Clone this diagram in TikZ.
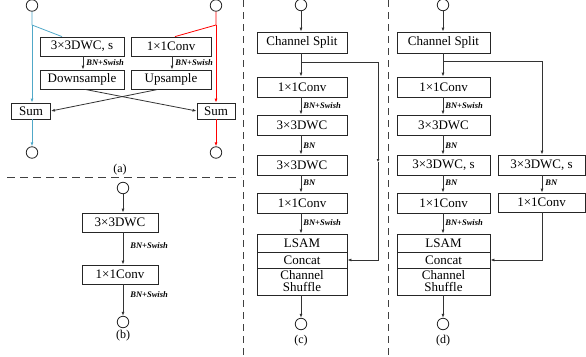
\documentclass[tikz,border=0pt]{standalone}
\usepackage{fontspec}
\setmainfont{Liberation Serif}
\usetikzlibrary{arrows.meta,calc}
\begin{document}
\begin{tikzpicture}[x=1pt,y=-1pt,
  line width=0.8pt,
  box/.style={draw=black!85,inner sep=0pt,font=\fontsize{13}{13}\selectfont,align=center},
  io/.style={draw=black!85,circle,minimum size=11.5pt,inner sep=0pt},
  lbl/.style={anchor=west,inner sep=0pt,font=\fontsize{8.5}{9}\selectfont\bfseries\itshape},
  captxt/.style={inner sep=0pt,font=\fontsize{12}{13}\selectfont},
  arr/.style={draw=black!80,-{Latex[length=4pt,width=3pt]}},
  ln/.style={draw=black!80},
  sep/.style={draw=black!75,line width=0.9pt,dash pattern=on 7pt off 5pt},
]
\useasboundingbox (0,0) rectangle (586,356);
\definecolor{myblue}{RGB}{80,168,200}
% ---------- separators
\coordinate (h1) at (7,177);
\coordinate (h2) at (241,177);
\draw[sep,dash pattern=on 8pt off 5pt] (h1) -- (h2);
\coordinate (v1a) at (243,0);
\coordinate (v1b) at (243,356);
\draw[sep] (v1a) -- (v1b);
\coordinate (v2a) at (388,0);
\coordinate (v2b) at (388,356);
\draw[sep] (v2a) -- (v2b);
% ---------- (a)
\node[io] (aiL) at (32,5.5) {};
\node[io] (aiR) at (216,5.5) {};
\node[box,minimum width=84pt,minimum height=19pt] (a1) at (82,46.5) {3×3DWC, s};
\node[box,minimum width=80pt,minimum height=19pt] (a2) at (171,46.5) {1×1Conv};
\node[box,minimum width=84pt,minimum height=19pt] (ad) at (82,79.5) {Downsample};
\node[box,minimum width=80pt,minimum height=19pt] (au) at (171,79.5) {Upsample};
\node[box,minimum width=39pt,minimum height=16pt] (sL) at (31,111) {Sum};
\node[box,minimum width=38pt,minimum height=16pt] (sR) at (216,111) {Sum};
\node[io] (aoL) at (32,152.5) {};
\node[io] (aoR) at (216,152.5) {};
\node[captxt] (capa) at (120,170) {(a)};
\coordinate (jL) at (32,25);
\coordinate (jR) at (216,25);
\draw[myblue] (aiL) -- (jL) -- ([xshift=-20pt]a1.north);
\draw[myblue,-{Latex[length=4pt,width=3pt]}] (jL) -- (jL |- sL.north);
\draw[myblue,-{Latex[length=4pt,width=3pt]}] (sL.south -| jL) -- (aoL);
\draw[red] (aiR) -- (jR) -- ([xshift=4pt]a2.north);
\draw[red,-{Latex[length=4pt,width=3pt]}] (jR) -- (sR.north);
\draw[red,-{Latex[length=4pt,width=3pt]}] (sR.south) -- (aoR);
\draw[arr] ([xshift=1pt]a1.south) -- ([xshift=1pt]ad.north);
\draw[arr] ([xshift=1pt]a2.south) -- ([xshift=1pt]au.north);
\node[lbl] (la1) at (86,63) {BN+Swish};
\node[lbl] (la2) at (175,63) {BN+Swish};
\draw[arr] ([xshift=3pt]ad.south) -- (sR.west);
\draw[arr] ([xshift=-13pt]au.south) -- (sL.east);
% ---------- (b)
\node[io] (bi) at (123,188) {};
\node[box,minimum width=76pt,minimum height=19pt] (b1) at (120,222.5) {3×3DWC};
\node[box,minimum width=76pt,minimum height=19pt] (b2) at (120,274.5) {1×1Conv};
\node[io] (bo) at (123,322) {};
\node[captxt] (capb) at (123,336) {(b)};
\draw[arr] (bi) -- (bi |- b1.north);
\draw[arr] (bi |- b1.south) -- (bi |- b2.north);
\draw[arr] (bi |- b2.south) -- (bo);
\node[lbl] (lb1) at (130,246) {BN+Swish};
\node[lbl] (lb2) at (130,295) {BN+Swish};
% ---------- (c)
\node[io] (ci) at (301,5) {};
\node[box,minimum width=90pt,minimum height=21pt] (c0) at (302,42.5) {Channel Split};
\node[box,minimum width=90pt,minimum height=20pt] (c1) at (302,87) {1×1Conv};
\node[box,minimum width=90pt,minimum height=20pt] (c2) at (302,125) {3×3DWC};
\node[box,minimum width=90pt,minimum height=20pt] (c3) at (302,165) {3×3DWC};
\node[box,minimum width=90pt,minimum height=20pt] (c4) at (302,203) {1×1Conv};
\node[box,minimum width=90pt,minimum height=18pt] (c5) at (302,243) {LSAM};
\node[box,minimum width=90pt,minimum height=16pt] (c6) at (302,260) {Concat};
\node[box,minimum width=90pt,minimum height=27pt] (c7) at (302,281.5) {Channel\\[-1pt]Shuffle};
\node[io] (co) at (301,324) {};
\node[captxt] (capc) at (301,341) {(c)};
\coordinate (cj) at (301,62);
\coordinate (cb1) at (378,62);
\coordinate (cbm) at (378,162);
\coordinate (cb2) at (378,260);
\draw[arr] (ci) -- (ci |- c0.north);
\draw[ln] (ci |- c0.south) -- (cj);
\draw[arr] (cj) -- (cj |- c1.north);
\draw[arr] (ci |- c1.south) -- (ci |- c2.north);
\draw[arr] (ci |- c2.south) -- (ci |- c3.north);
\draw[arr] (ci |- c3.south) -- (ci |- c4.north);
\draw[arr] (ci |- c4.south) -- (ci |- c5.north);
\draw[arr] (ci |- c7.south) -- (co);
\draw[ln,-{Latex[length=3pt,width=3pt]}] (cj) -- (cb1) -- (cbm);
\draw[arr] (cbm) -- (cb2) -- (c6.east);
\node[lbl] (lc1) at (303,106) {BN+Swish};
\node[lbl] (lc2) at (303,146) {BN};
\node[lbl] (lc3) at (303,183) {BN};
\node[lbl] (lc4) at (303,223) {BN+Swish};
% ---------- (d)
\node[io] (di) at (443,5) {};
\node[box,minimum width=93pt,minimum height=21pt] (d0) at (443.5,42.5) {Channel Split};
\node[box,minimum width=93pt,minimum height=20pt] (d1) at (443.5,87) {1×1Conv};
\node[box,minimum width=93pt,minimum height=20pt] (d2) at (443.5,125) {3×3DWC};
\node[box,minimum width=93pt,minimum height=20pt] (d3) at (443.5,165) {3×3DWC, s};
\node[box,minimum width=93pt,minimum height=20pt] (d4) at (443.5,203) {1×1Conv};
\node[box,minimum width=93pt,minimum height=18pt] (d5) at (443.5,243) {LSAM};
\node[box,minimum width=93pt,minimum height=16pt] (d6) at (443.5,260) {Concat};
\node[box,minimum width=93pt,minimum height=27pt] (d7) at (443.5,281.5) {Channel\\[-1pt]Shuffle};
\node[box,minimum width=87pt,minimum height=20pt] (e3) at (541.6,165) {3×3DWC, s};
\node[box,minimum width=87pt,minimum height=19pt] (e4) at (541.6,202.5) {1×1Conv};
\node[io] (do) at (443,324) {};
\node[captxt] (capd) at (443,341) {(d)};
\coordinate (dj) at (443,61);
\coordinate (dr) at (542,61);
\coordinate (dc) at (542,260);
\draw[arr] (di) -- (di |- d0.north);
\draw[ln] (di |- d0.south) -- (dj);
\draw[arr] (dj) -- (dj |- d1.north);
\draw[arr] (di |- d1.south) -- (di |- d2.north);
\draw[arr] (di |- d2.south) -- (di |- d3.north);
\draw[arr] (di |- d3.south) -- (di |- d4.north);
\draw[arr] (di |- d4.south) -- (di |- d5.north);
\draw[arr] (di |- d7.south) -- (do);
\draw[arr] (dj) -- (dr) -- (dr |- e3.north);
\draw[arr] (dr |- e3.south) -- (dr |- e4.north);
\draw[arr] (dr |- e4.south) -- (dc) -- (d6.east);
\node[lbl] (ld1) at (445,106) {BN+Swish};
\node[lbl] (ld2) at (445,146) {BN};
\node[lbl] (ld3) at (445,183) {BN};
\node[lbl] (ld4) at (445,223) {BN+Swish};
\node[lbl] (ld5) at (545,183) {BN};
\end{tikzpicture}
\end{document}
